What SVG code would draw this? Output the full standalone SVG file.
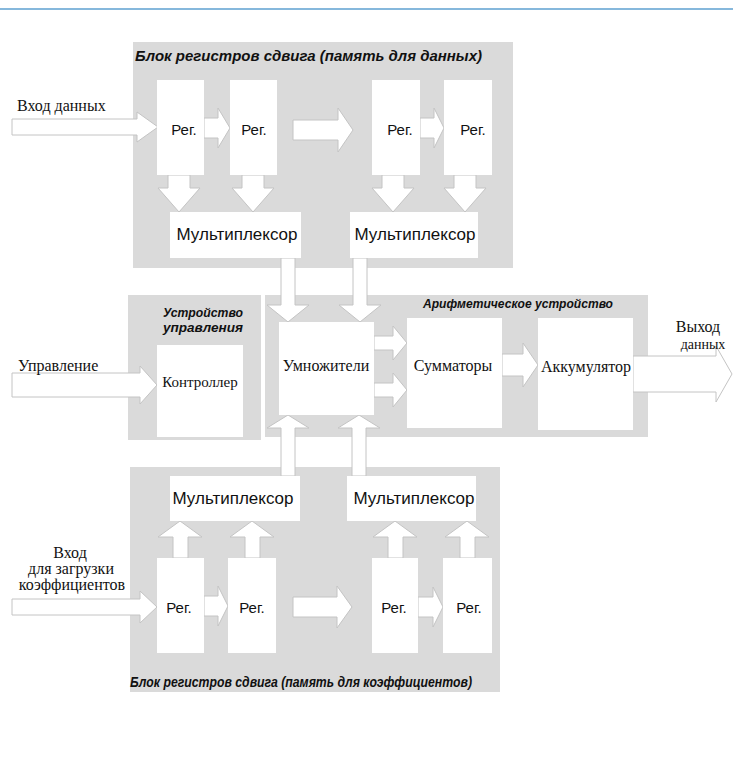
<svg xmlns="http://www.w3.org/2000/svg" width="733" height="780" viewBox="0 0 733 780">
<style>
.bg{fill:#dadada}
.box{fill:#ffffff}
.ar{fill:#ffffff;stroke:#c4c4c4;stroke-width:1}
.sans{font-family:"Liberation Sans",Arial,sans-serif;fill:#111}
.serif{font-family:"Liberation Serif","Times New Roman",serif;fill:#111}
.lbl{font-family:"Liberation Sans",Arial,sans-serif;font-style:italic;font-weight:bold;fill:#111}
</style>
<rect x="0" y="0" width="733" height="780" fill="#ffffff"/>
<line x1="0" y1="9" x2="733" y2="9" stroke="#86b8dc" stroke-width="2"/>

<g id="regions">
<rect class="bg" x="133" y="42" width="380" height="226"/>
<rect class="bg" x="128" y="295" width="133" height="145"/>
<rect class="bg" x="265" y="295" width="383" height="142"/>
<rect class="bg" x="130" y="467" width="370" height="225"/>
</g>

<g id="connectors">
<polygon class="ar" points="12,119 137,119 137,112 158,127 137,142 137,135 12,135"/>
<polygon class="ar" points="204,118 218,118 218,108 230,128 218,148 218,138 204,138"/>
<polygon class="ar" points="293,120 338,120 338,108 353,130 338,152 338,140 293,140"/>
<polygon class="ar" points="420,118 434,118 434,108 444,128 434,148 434,138 420,138"/>
<polygon class="ar" points="168,175 190,175 190,188 200,188 179,212 158,188 168,188"/>
<polygon class="ar" points="242,175 264,175 264,188 274,188 253,212 232,188 242,188"/>
<polygon class="ar" points="382,175 404,175 404,188 414,188 393,212 372,188 382,188"/>
<polygon class="ar" points="454,175 476,175 476,188 486,188 465,212 444,188 454,188"/>
<polygon class="ar" points="281,258 295,258 295,305 309,305 288,322 267,305 281,305"/>
<polygon class="ar" points="353,258 367,258 367,305 381,305 360,322 339,305 353,305"/>
<polygon class="ar" points="12,373 140,373 140,366 157,385 140,404 140,397 12,397"/>
<polygon class="ar" points="374,336 393,336 393,326 407,343 393,360 393,350 374,350"/>
<polygon class="ar" points="374,383 393,383 393,373 407,390 393,407 393,397 374,397"/>
<polygon class="ar" points="502,354 523,354 523,343 538,365 523,387 523,376 502,376"/>
<polygon class="ar" points="633,356 716,356 716,346 732,374 716,402 716,392 633,392"/>
<polygon class="ar" points="281,476 295,476 295,428 309,428 288,415 267,428 281,428"/>
<polygon class="ar" points="352,476 366,476 366,428 380,428 359,415 338,428 352,428"/>
<polygon class="ar" points="173,558 188,558 188,537 202,537 180,521 158,537 173,537"/>
<polygon class="ar" points="245,558 260,558 260,537 274,537 252,521 230,537 245,537"/>
<polygon class="ar" points="388,558 403,558 403,537 417,537 395,521 373,537 388,537"/>
<polygon class="ar" points="460,558 475,558 475,537 489,537 467,521 445,537 460,537"/>
<polygon class="ar" points="12,599 140,599 140,591 157,607 140,623 140,615 12,615"/>
<polygon class="ar" points="204,596 218,596 218,586 228,606 218,626 218,616 204,616"/>
<polygon class="ar" points="293,597 337,597 337,586 352,607 337,628 337,617 293,617"/>
<polygon class="ar" points="418,597 433,597 433,587 443,607 433,627 433,617 418,617"/>
</g>

<text class="lbl" x="135" y="61" font-size="15" textLength="347" lengthAdjust="spacingAndGlyphs">Блок регистров сдвига (память для данных)</text>
<text class="lbl" x="130" y="687" font-size="14" textLength="342" lengthAdjust="spacingAndGlyphs">Блок регистров сдвига (память для коэффициентов)</text>
<text class="lbl" x="163" y="317" font-size="13" textLength="80" lengthAdjust="spacingAndGlyphs">Устройство</text>
<text class="lbl" x="163" y="332" font-size="13" textLength="80" lengthAdjust="spacingAndGlyphs">управления</text>
<text class="lbl" x="423" y="308" font-size="13" textLength="190" lengthAdjust="spacingAndGlyphs">Арифметическое устройство</text>

<g id="in-data"><text class="serif" x="17" y="111" font-size="16">Вход данных</text></g>
<g id="in-ctrl"><text class="serif" x="18" y="371" font-size="16">Управление</text></g>
<g id="in-coef">
<text class="serif" x="70" y="558" font-size="16" text-anchor="middle">Вход</text>
<text class="serif" x="71" y="574" font-size="16" text-anchor="middle">для загрузки</text>
<text class="serif" x="72" y="590" font-size="16" text-anchor="middle">коэффициентов</text>
</g>
<g id="out-data">
<text class="serif" x="698" y="332" font-size="16" text-anchor="middle">Выход</text>
<text class="serif" x="703" y="349" font-size="14" text-anchor="middle">данных</text>
</g>

<g id="reg-d1"><rect class="box" x="157" y="80" width="47" height="95"/><text class="sans" x="184" y="135" font-size="15" text-anchor="middle">Рег.</text></g>
<g id="reg-d2"><rect class="box" x="230" y="80" width="47" height="95"/><text class="sans" x="254" y="135" font-size="15" text-anchor="middle">Рег.</text></g>
<g id="reg-d3"><rect class="box" x="372" y="80" width="48" height="95"/><text class="sans" x="400" y="135" font-size="15" text-anchor="middle">Рег.</text></g>
<g id="reg-d4"><rect class="box" x="444" y="80" width="48" height="95"/><text class="sans" x="473" y="135" font-size="15" text-anchor="middle">Рег.</text></g>
<g id="mux-d1"><rect class="box" x="170" y="212" width="131" height="46"/><text class="sans" x="237" y="240" font-size="17" text-anchor="middle">Мультиплексор</text></g>
<g id="mux-d2"><rect class="box" x="350" y="212" width="128" height="46"/><text class="sans" x="415" y="240" font-size="17" text-anchor="middle">Мультиплексор</text></g>

<g id="controller"><rect class="box" x="157" y="345" width="86" height="92"/><text class="serif" x="200" y="387" font-size="15" text-anchor="middle">Контроллер</text></g>
<g id="multipliers"><rect class="box" x="279" y="322" width="95" height="93"/><text class="serif" x="326" y="371" font-size="16" text-anchor="middle">Умножители</text></g>
<g id="adders"><rect class="box" x="407" y="318" width="95" height="110"/><text class="serif" x="453" y="371" font-size="16" text-anchor="middle">Сумматоры</text></g>
<g id="accumulator"><rect class="box" x="538" y="318" width="95" height="112"/><text class="serif" x="586" y="372" font-size="16" text-anchor="middle">Аккумулятор</text></g>

<g id="mux-c1"><rect class="box" x="170" y="476" width="130" height="45"/><text class="sans" x="233" y="504" font-size="17" text-anchor="middle">Мультиплексор</text></g>
<g id="mux-c2"><rect class="box" x="347" y="476" width="129" height="45"/><text class="sans" x="414" y="504" font-size="17" text-anchor="middle">Мультиплексор</text></g>
<g id="reg-c1"><rect class="box" x="157" y="558" width="47" height="95"/><text class="sans" x="179" y="613" font-size="15" text-anchor="middle">Рег.</text></g>
<g id="reg-c2"><rect class="box" x="228" y="558" width="48" height="95"/><text class="sans" x="252" y="613" font-size="15" text-anchor="middle">Рег.</text></g>
<g id="reg-c3"><rect class="box" x="372" y="558" width="46" height="95"/><text class="sans" x="394" y="613" font-size="15" text-anchor="middle">Рег.</text></g>
<g id="reg-c4"><rect class="box" x="443" y="558" width="49" height="95"/><text class="sans" x="469" y="613" font-size="15" text-anchor="middle">Рег.</text></g>
</svg>
